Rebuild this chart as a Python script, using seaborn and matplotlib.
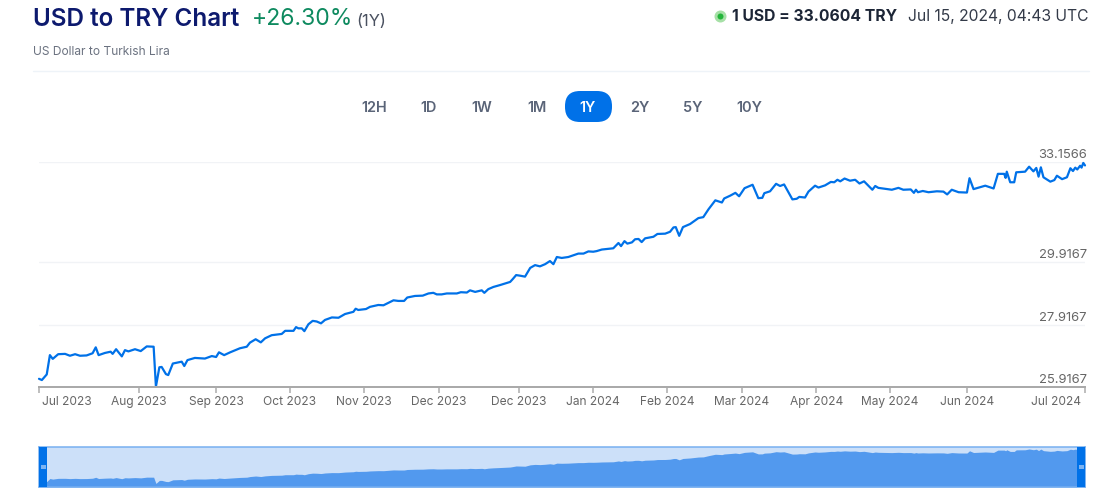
import matplotlib
matplotlib.use('Agg')
import matplotlib.pyplot as plt
from matplotlib.patches import FancyBboxPatch, Rectangle
from matplotlib.transforms import ScaledTranslation
import pandas as pd
import seaborn as sns

W, H = 1105, 497

# days since 15 Jul 2023
days = [0, 1.0, 2.7, 3.8, 4.8, 6.7, 9.1, 10.8, 12.6, 14.3, 16.6, 18.7, 19.8, 20.8, 23.0, 25.0, 25.7, 26.9, 28.9, 30.0,
        31.2, 33.5, 35.5, 37.6, 40.0, 40.8, 42.0, 42.8, 44.3, 45.1, 46.7, 49.8, 50.7, 51.8, 54.4, 57.9, 60.3, 61.8, 62.8, 64.6,
        66.7, 70.1, 72.5, 73.6, 75.6, 77.4, 78.9, 81.2, 84.7, 85.9,
        88.8, 89.7, 90.5, 91.7, 92.6, 94.0, 95.5, 96.9, 98.4, 99.8, 102.2, 104.5, 106.8, 109.7, 110.5, 111.4, 114.1, 115.5, 118.4, 120.2,
        123.7, 125.4, 127.4, 128.5, 131.2, 133.9, 135.9, 137.6, 138.8, 140.5, 142.3, 145.8, 147.2, 149.3, 150.4, 152.2, 154.5, 155.4, 156.8, 158.6,
        160.9, 164.4, 165.3, 166.5, 167.9, 169.6, 171.4, 173.1, 174.8, 176.6, 178.3, 179.5, 180.7, 182.4, 184.7, 188.2, 190.0, 191.7, 193.4, 194.6,
        196.4, 200.4, 202.2, 203.1, 204.3, 205.3, 206.9, 208.0, 209.2, 210.3, 211.5, 214.4, 215.8, 218.5, 220.2, 221.4, 222.2, 223.4, 224.7, 227.2,
        230.1, 231.8, 233.6, 236.0, 238.3, 239.1, 241.2,
        243.0, 244.3, 246.2, 249.0, 251.0, 252.4, 253.1, 255.1,
        257.2, 258.6, 260.0, 262.9, 264.4, 265.3, 267.3, 268.5, 270.8, 272.0, 274.3, 276.3, 277.5, 278.6, 279.6, 281.1, 283.0, 284.8, 286.3, 287.9,
        289.4, 290.8, 291.8, 292.9, 297.6, 299.9, 301.6, 304.2, 305.3, 306.0, 306.7, 308.4, 310.4, 313.3, 315.6, 316.9, 318.5, 320.9, 323.8, 324.7,
        326.1, 330.2, 333.1, 334.6, 336.8, 337.3, 337.7, 338.9, 340.3, 341.0, 344.1, 345.5, 347.0, 348.0, 348.8, 349.6, 350.5, 352.9, 354.3, 355.2,
        357.0, 358.7, 359.9, 360.8, 361.6, 362.3, 363.3, 363.8, 364.4, 365.0]
rates = [26.18, 26.14, 26.32, 26.94, 26.82, 26.97, 26.98, 26.92, 26.97, 26.92, 26.93, 27.00, 27.19, 26.94, 27.01, 27.05, 26.98, 27.13, 26.90, 27.10,
         27.06, 27.13, 27.07, 27.22, 27.21, 25.93, 26.55, 26.56, 26.33, 26.30, 26.67, 26.73, 26.59, 26.78, 26.85, 26.83, 26.91, 26.88, 27.03, 26.94,
         27.03, 27.16, 27.21, 27.34, 27.45, 27.35, 27.48, 27.58, 27.62, 27.72,
         27.72, 27.84, 27.80, 27.80, 27.71, 27.93, 28.04, 28.02, 27.96, 28.07, 28.15, 28.14, 28.26, 28.33, 28.43, 28.39, 28.42, 28.49, 28.55, 28.54,
         28.70, 28.68, 28.68, 28.79, 28.84, 28.85, 28.92, 28.94, 28.89, 28.89, 28.92, 28.92, 28.96, 28.95, 29.02, 28.97, 29.02, 28.94, 29.06, 29.13,
         29.19, 29.29, 29.38, 29.51, 29.49, 29.46, 29.74, 29.83, 29.79, 29.86, 29.96, 29.86, 30.09, 30.06, 30.09, 30.20, 30.20, 30.27, 30.26, 30.28,
         30.33, 30.37, 30.54, 30.44, 30.60, 30.52, 30.56, 30.66, 30.67, 30.57, 30.69, 30.74, 30.83, 30.84, 30.90, 31.04, 31.05, 30.77, 31.05, 31.15,
         31.34, 31.37, 31.62, 31.91, 31.84, 31.97, 32.06,
         32.15, 32.04, 32.30, 32.41, 31.98, 31.99, 32.14, 32.20,
         32.44, 32.37, 32.42, 31.94, 31.96, 32.02, 32.00, 32.19, 32.38, 32.32, 32.39, 32.50, 32.49, 32.57, 32.52, 32.61, 32.54, 32.57, 32.45, 32.52,
         32.38, 32.25, 32.37, 32.31, 32.25, 32.31, 32.25, 32.26, 32.15, 32.25, 32.17, 32.21, 32.17, 32.20, 32.19, 32.10, 32.25, 32.17, 32.16, 32.62,
         32.27, 32.38, 32.29, 32.76, 32.76, 32.63, 32.83, 32.49, 32.49, 32.81, 32.83, 32.99, 32.84, 32.95, 32.67, 32.97, 32.65, 32.51, 32.56, 32.70,
         32.59, 32.65, 32.94, 32.85, 32.96, 32.90, 33.02, 32.96, 33.11, 33.03]

tick_days = [0, 34.9, 61.8, 87.6, 113.4, 139.6, 167.5, 193.3, 219.2, 245.3, 271.2, 297, 323.9, 365]
tick_labels = ['Jul 2023', 'Aug 2023', 'Sep 2023', 'Oct 2023', 'Nov 2023', 'Dec 2023', 'Dec 2023',
               'Jan 2024', 'Feb 2024', 'Mar 2024', 'Apr 2024', 'May 2024', 'Jun 2024', 'Jul 2024']
y_levels = [25.9167, 27.9167, 29.9167, 33.1566]
ranges = ['12H', '1D', '1W', '1M', '1Y', '2Y', '5Y', '10Y']
range_x = [374, 429, 482, 537, 588, 640, 693, 749]

df = pd.DataFrame({'day': days, 'rate': rates})

sns.set_theme(style='white')
plt.rcParams['font.family'] = ['Inter', 'DejaVu Sans']

BLUE = '#0071e8'


def px(size):
    return size * 72 / 100


def box(left, top, right, bottom):
    return [left / W, 1 - bottom / H, (right - left) / W, (bottom - top) / H]


fig = plt.figure(figsize=(W / 100, H / 100), dpi=100)

# page header and range buttons
page = fig.add_axes([0, 0, 1, 1])
page.set_xlim(0, W)
page.set_ylim(H, 0)
page.axis('off')
page.text(33, 19, 'USD to TRY Chart', fontsize=px(24.2), fontweight='semibold', color='#0d1a6e', va='center')
page.text(252, 19, '+26.30%', fontsize=px(23), color='#0e8a5f', va='center')
page.text(356, 21, '(1Y)', fontsize=px(16.5), color='#4a5160', va='center')
page.text(33, 52, 'US Dollar to Turkish Lira', fontsize=px(12), color='#6b7280', va='center')
page.plot([33, 1089], [70.5, 70.5], color='#eef3f8', lw=1)
page.scatter([720], [15.5], s=px(12) ** 2, color='#a6e0a6', linewidths=0)
page.scatter([720], [15.5], s=px(6) ** 2, color='#22b53a', linewidths=0)
page.text(732, 16.5, '1 USD = 33.0604 TRY', fontsize=px(15.7), fontweight='bold', color='#1c2536', va='center')
page.text(1089, 16.5, 'Jul 15, 2024, 04:43 UTC', fontsize=px(15.7), color='#333a48', va='center', ha='right')
page.add_patch(FancyBboxPatch((565 + 15, 91 + 15), 47 - 30, 1, boxstyle='round,pad=15', facecolor=BLUE, edgecolor='none'))
for name, x in zip(ranges, range_x):
    page.text(x, 108, name, fontsize=px(14.5), fontweight='semibold', va='center', ha='center',
              color='white' if name == '1Y' else '#5a6478')

# main chart
ax = fig.add_axes(box(39, 161.5, 1085, 387))
ax.patch.set_alpha(0)
sns.lineplot(data=df, x='day', y='rate', color=BLUE, lw=1.6, ax=ax, clip_on=False, solid_joinstyle='round')
ax.set_xlim(0, 365)
ax.set_ylim(y_levels[0], y_levels[-1])
ax.set_xlabel('')
ax.set_ylabel('')
sns.despine(ax=ax, top=True, left=True, right=True)
ax.spines['bottom'].set_color('#aaaaaa')
ax.spines['bottom'].set_linewidth(px(2))
ax.set_yticks(y_levels)
ax.set_yticklabels([f'{v:.4f}' for v in y_levels])
ax.yaxis.tick_right()
ax.grid(axis='y', color='#f1f3f6', lw=1)
ax.tick_params(axis='y', length=0, pad=px(2), labelsize=px(13), labelcolor='#666666')
for label in ax.get_yticklabels():
    label.set_ha('right')
    label.set_va('bottom')
    label.set_transform(label.get_transform() + ScaledTranslation(0, 1 / 100, fig.dpi_scale_trans))
ax.set_xticks(tick_days)
ax.set_xticklabels(tick_labels)
ax.tick_params(axis='x', bottom=True, length=px(6), width=px(1.5), color='#aaaaaa', pad=px(3),
               labelsize=px(12), labelcolor='#666666')
x_labels = ax.get_xticklabels()
x_labels[0].set_ha('left')
x_labels[0].set_transform(x_labels[0].get_transform() + ScaledTranslation(3 / 100, 0, fig.dpi_scale_trans))
x_labels[-1].set_ha('right')
x_labels[-1].set_transform(x_labels[-1].get_transform() + ScaledTranslation(-4 / 100, 0, fig.dpi_scale_trans))

# navigator strip
nav = fig.add_axes(box(39, 447, 1085, 487))
nav.set_facecolor('#cce0f9')
nav.fill_between(days, rates, 25.2, color='#5299ee', lw=0)
nav.set_xlim(0, 365)
nav.set_ylim(25.2, 33.4)
nav.set_xticks([])
nav.set_yticks([])
for spine in nav.spines.values():
    spine.set_color('#75aef0')
    spine.set_linewidth(px(1.5))
for left in (39, 1077):
    page.add_patch(Rectangle((left, 447), 8, 40, facecolor=BLUE, edgecolor='none', zorder=5))
    page.add_patch(Rectangle((left + 1.5, 464.5), 5, 4, facecolor='#7db4f2', edgecolor='none', zorder=6))
page.set_zorder(3)
page.patch.set_alpha(0)

fig.savefig('out.png', dpi=100)
